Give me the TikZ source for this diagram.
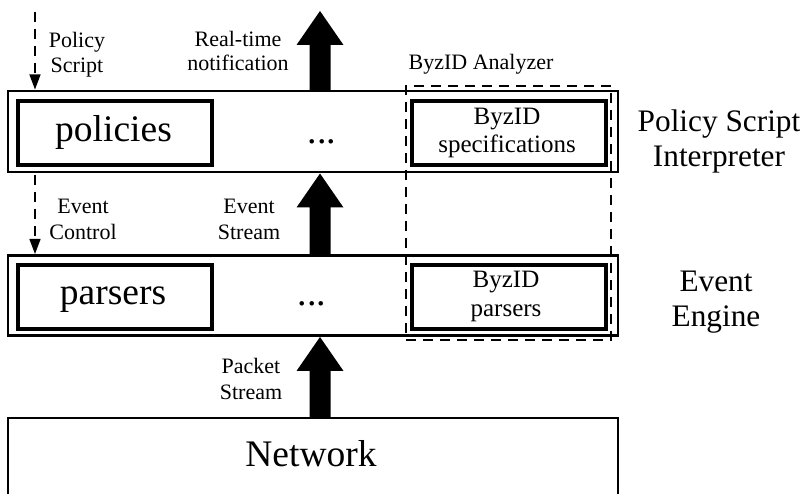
\documentclass[tikz,border=0pt]{standalone}
\usepackage{fontspec}
\setmainfont{Liberation Serif}
\usetikzlibrary{arrows.meta,calc}
\newcommand\fsz[1]{\fontsize{#1}{#1}\selectfont}
% wide block arrow from #1 (tail) up to #2 (tip)
\newcommand\flowarrow[2]{%
  \fill let \p1=(#1), \p2=(#2) in
    ({\x1-10.5pt},\y1) -- ({\x1-10.5pt},{\y2-34pt}) -- ({\x1-23.5pt},{\y2-34pt})
    -- (\p2) -- ({\x1+23.5pt},{\y2-34pt}) -- ({\x1+10.5pt},{\y2-34pt})
    -- ({\x1+10.5pt},\y1) -- cycle;}
\begin{document}
\begin{tikzpicture}[x=1pt,y=-1pt,
  layer/.style={draw, line width=2.5pt, inner sep=0pt, outer sep=0pt, minimum width=610pt},
  module/.style={draw, line width=3.2pt, inner sep=0pt, outer sep=0pt, minimum width=194pt, minimum height=64pt},
  region/.style={draw, line width=1.3pt, dash pattern=on 10pt off 7pt, inner sep=0pt, outer sep=0pt},
  txt/.style={inner sep=0pt, anchor=base},
  small/.style={txt, font=\fsz{22}},
  mid/.style={txt, font=\fsz{25}},
  side/.style={txt, font=\fsz{31.3}},
  big/.style={txt, font=\fsz{37.5}},
  ctrl/.style={line width=1.2pt, dash pattern=on 10pt off 7pt, -{Triangle[width=11pt,length=15pt]}}]
\useasboundingbox (0,0) rectangle (804,494);
\clip (0,0) rectangle (804,494);

% layers
\node[layer, minimum height=81pt] (psi) at (313,131.5) {};
\node[layer, minimum height=80pt] (ee) at (313,295.5) {};
\node[layer, minimum height=130pt] (net) at (313,483) {};

% modules inside the layers
\node[module] (pol) at (115,133) {};
\node[module] (spec) at (509,133) {};
\node[module] (par) at (115,297) {};
\node[module] (bpar) at (509,297) {};

% ByzID analyzer region
\node[region, minimum width=205pt, minimum height=254pt] (ana) at (508.5,213) {};
\node[small] (anaLbl) at (481,70) {ByzID Analyzer};

% module texts
\node[big] (polTxt) at (113.5,142) {policies};
\node[big] (parTxt) at (113,305) {parsers};
\node[big] (netTxt) at (311,467) {Network};
\node[mid] (specA) at (507,125) {ByzID};
\node[mid] (specB) at (507,153) {specifications};
\node[mid] (bparA) at (506,288) {ByzID};
\node[mid] (bparB) at (506,317) {parsers};
\node[txt, font=\fsz{38}] (dotsA) at (322,144) {...};
\node[txt, font=\fsz{38}] (dotsB) at (312,306) {...};

% layer names
\node[side] (psiA) at (719,132) {Policy Script};
\node[side] (psiB) at (719,167) {Interpreter};
\node[side] (eeA) at (716,292) {Event};
\node[side] (eeB) at (716,327) {Engine};

% data flow
\coordinate (rt) at (320,11);
\flowarrow{psi.north -| rt}{rt}
\flowarrow{ee.north -| rt}{[yshift=-1.5pt]psi.south -| rt}
\flowarrow{net.north -| rt}{[yshift=-1.5pt]ee.south -| rt}
\node[small] (rtA) at (238,47) {Real-time};
\node[small] (rtB) at (238,71) {notification};
\node[small] (esA) at (249,214) {Event};
\node[small] (esB) at (249,240) {Stream};
\node[small] (pkA) at (251,374) {Packet};
\node[small] (pkB) at (251,400) {Stream};

% control flow
\coordinate (ps) at (35,12);
\draw[ctrl] (ps) -- ([yshift=1.5pt]psi.north -| ps);
\draw[ctrl] ([yshift=-3pt]psi.south -| ps) -- ([yshift=1.5pt]ee.north -| ps);
\node[small] (psA) at (77,48) {Policy};
\node[small] (psB) at (77,73) {Script};
\node[small] (ecA) at (83,214) {Event};
\node[small] (ecB) at (83,240) {Control};
\end{tikzpicture}
\end{document}
